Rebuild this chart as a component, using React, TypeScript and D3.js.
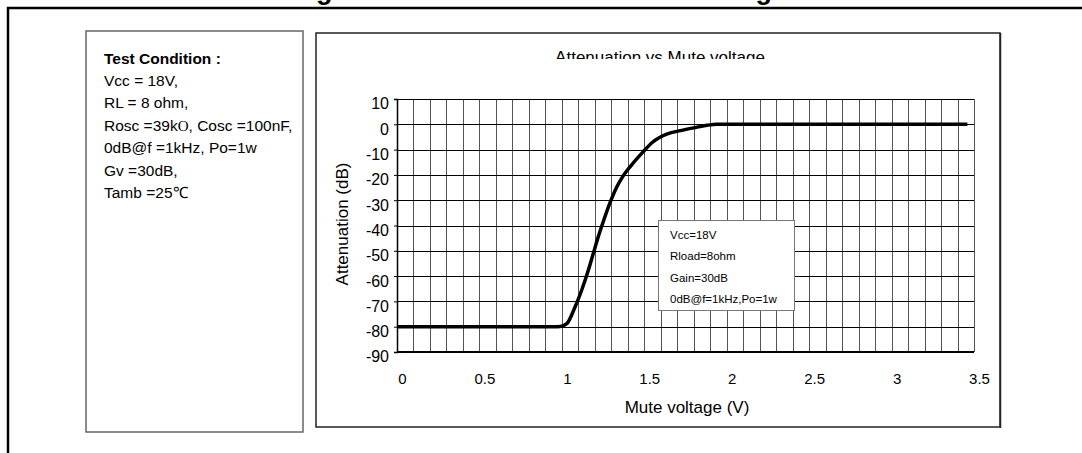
import { useEffect, useRef } from 'react'
import * as d3 from 'd3'

// curve: mute pin voltage (V) vs attenuation (dB)
const voltage = [0, 0.5, 0.95, 0.99, 1.03, 1.08, 1.12, 1.16, 1.19, 1.22, 1.25, 1.29, 1.33, 1.37, 1.42, 1.49, 1.55, 1.64, 1.72, 1.8, 1.88, 1.94, 2.5, 3.0, 3.46]
const attenuation = [-80, -80, -80, -79.9, -78.8, -72.2, -65.6, -57.8, -51.2, -44.6, -38.7, -31.4, -25.2, -20.6, -16.3, -11.1, -7.1, -3.8, -2.5, -1.4, -0.4, 0, 0, 0, 0]

const xTicks = [0, 0.5, 1, 1.5, 2, 2.5, 3, 3.5]
const yTicks = [10, 0, -10, -20, -30, -40, -50, -60, -70, -80, -90]

const conditions = ['Vcc = 18V,', 'RL = 8 ohm,', 'Rosc =39kO, Cosc =100nF,', '0dB@f =1kHz, Po=1w', 'Gv =30dB,', 'Tamb =25℃']
const legendLines = ['Vcc=18V', 'Rload=8ohm', 'Gain=30dB', '0dB@f=1kHz,Po=1w']

const FONT = '"Liberation Sans", Arial, sans-serif'

const App = () => {
  const svgRef = useRef<SVGSVGElement>(null)

  useEffect(() => {
    if (!svgRef.current) return
    const svg = d3.select(svgRef.current)
    svg.selectAll('*').remove()
    svg.style('font-family', FONT)

    // page title, mostly above the picture
    svg.append('text')
      .attr('x', 292)
      .attr('y', -1)
      .style('font-size', '27px')
      .style('font-weight', 'bold')
      .text('Figure 12. Attenuation vs Mute Voltage')

    // outer frame (top and left only visible)
    svg.append('path')
      .attr('d', 'M8,453 L8,8 L1082,8')
      .attr('fill', 'none')
      .attr('stroke', '#000')
      .attr('stroke-width', 2.5)

    // test condition panel
    svg.append('rect')
      .attr('x', 86).attr('y', 31)
      .attr('width', 217).attr('height', 401)
      .attr('fill', '#fff')
      .attr('stroke', '#666')
      .attr('stroke-width', 1.5)

    svg.append('text')
      .attr('x', 104).attr('y', 64)
      .style('font-size', '15.5px')
      .style('font-weight', 'bold')
      .text('Test Condition :')

    conditions.forEach((line, i) => {
      const t = svg.append('text')
        .attr('x', 104)
        .attr('y', 86 + i * 22.4)
        .style('font-size', '15.5px')
      if (line.includes('39kO')) {
        const [a, b] = line.split('O,')
        t.append('tspan').text(a)
        t.append('tspan').style('font-family', '"Liberation Serif", serif').style('font-size', '15px').text('O')
        t.append('tspan').text(',' + b)
      } else {
        t.text(line)
      }
    })

    // chart box
    svg.append('rect')
      .attr('x', 316).attr('y', 33)
      .attr('width', 684).attr('height', 394)
      .attr('fill', '#fff')
      .attr('stroke', '#222')
      .attr('stroke-width', 1.5)
    svg.append('line')
      .attr('x1', 1000.5).attr('x2', 1000.5)
      .attr('y1', 33).attr('y2', 428)
      .attr('stroke', '#222')
      .attr('stroke-width', 1.5)

    // chart title, clipped at the bottom like the original
    svg.append('clipPath').attr('id', 'titleClip')
      .append('rect')
      .attr('x', 316).attr('y', 33)
      .attr('width', 684).attr('height', 26)
    svg.append('text')
      .attr('x', 660).attr('y', 63)
      .attr('text-anchor', 'middle')
      .attr('clip-path', 'url(#titleClip)')
      .style('font-size', '17px')
      .text('Attenuation vs Mute voltage')

    const x = d3.scaleLinear().domain([0, 3.5]).range([397, 974])
    const y = d3.scaleLinear().domain([-90, 10]).range([352, 99])

    // grid
    const grid = svg.append('g')
    grid.selectAll('.vgrid')
      .data(d3.range(0, 36).map((i) => i / 10))
      .enter()
      .append('line')
      .attr('x1', (d) => Math.round(x(d)) + 0.5)
      .attr('x2', (d) => Math.round(x(d)) + 0.5)
      .attr('y1', y(10))
      .attr('y2', y(-90))
      .attr('stroke', '#555')
      .attr('stroke-width', 1)
    grid.selectAll('.hgrid')
      .data(yTicks)
      .enter()
      .append('line')
      .attr('x1', x(0))
      .attr('x2', x(3.5))
      .attr('y1', (d) => Math.round(y(d)) + 0.5)
      .attr('y2', (d) => Math.round(y(d)) + 0.5)
      .attr('stroke', '#000')
      .attr('stroke-width', 1)

    // y axis
    const yAxis = svg.append('g')
      .attr('transform', `translate(${x(0)},0)`)
      .call(d3.axisLeft(y).tickValues(yTicks).tickSize(3).tickPadding(5).tickFormat((d) => String(d)))
    yAxis.select('.domain').attr('stroke', '#000').attr('stroke-width', 1.5)
    yAxis.selectAll('.tick line').attr('stroke', '#000')
    yAxis.selectAll('text')
      .attr('dy', '0.62em')
      .style('font-size', '16px')
      .style('font-family', FONT)
      .style('fill', '#000')

    // x axis
    const xAxis = svg.append('g')
      .attr('transform', `translate(5,${y(-90)})`)
      .call(d3.axisBottom(x).tickValues(xTicks).tickSize(0).tickPadding(21).tickFormat((d) => String(d)))
    xAxis.select('.domain').remove()
    xAxis.selectAll('text')
      .style('font-size', '15px')
      .style('font-family', FONT)
      .style('fill', '#000')
    svg.append('line')
      .attr('x1', x(0)).attr('x2', x(3.5))
      .attr('y1', y(-90)).attr('y2', y(-90))
      .attr('stroke', '#000')
      .attr('stroke-width', 2)

    // axis titles
    svg.append('text')
      .attr('x', 687).attr('y', 413)
      .attr('text-anchor', 'middle')
      .style('font-size', '17px')
      .text('Mute voltage (V)')
    svg.append('text')
      .attr('transform', 'translate(347.5,224) rotate(-90)')
      .attr('text-anchor', 'middle')
      .style('font-size', '17px')
      .text('Attenuation (dB)')

    // legend box
    svg.append('rect')
      .attr('x', 658.5).attr('y', 220.5)
      .attr('width', 136).attr('height', 90)
      .attr('fill', '#fff')
      .attr('stroke', '#777')
      .attr('stroke-width', 1)
    legendLines.forEach((line, i) => {
      svg.append('text')
        .attr('x', 670)
        .attr('y', 239 + i * 21.4)
        .style('font-size', '11.5px')
        .text(line)
    })

    // curve
    const pts = voltage.map((v, i) => [v, attenuation[i]] as [number, number])
    const line = d3.line<[number, number]>()
      .x((d) => x(d[0]))
      .y((d) => y(d[1]))
      .curve(d3.curveMonotoneX)
    svg.append('path')
      .datum(pts)
      .attr('d', line)
      .attr('fill', 'none')
      .attr('stroke', '#000')
      .attr('stroke-width', 3.5)
      .attr('stroke-linejoin', 'round')
  }, [])

  return (
    <svg
      ref={svgRef}
      width={1082}
      height={453}
      style={{ position: 'absolute', left: 0, top: 0, background: '#fff', display: 'block' }}
    />
  )
}

export default App
